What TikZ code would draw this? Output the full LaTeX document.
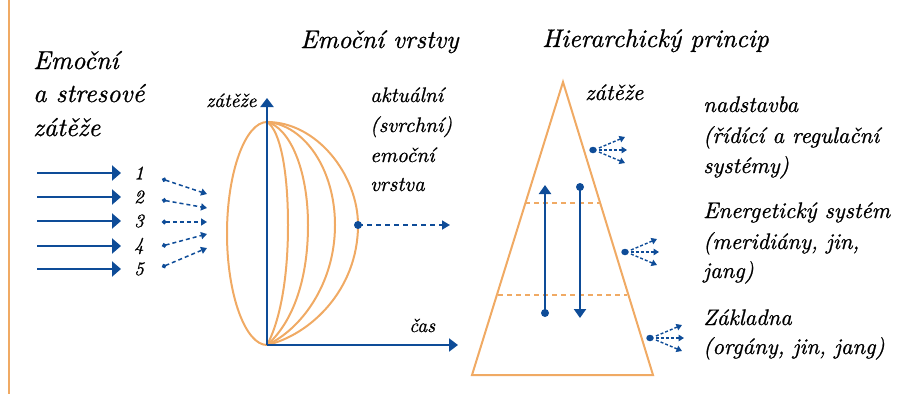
\documentclass[tikz,border=0pt]{standalone}
\usepackage{fontspec}
\newfontfamily\itf{lmroman10-italic.otf}[FakeBold=0.8]
\usetikzlibrary{arrows.meta,shapes.geometric}
\definecolor{dblue}{RGB}{14,76,152}
\definecolor{lorange}{RGB}{240,170,100}
\begin{document}
\begin{tikzpicture}[x=1pt,y=-1pt,
  lbl/.style={anchor=base west, inner sep=0pt, font=\itf\fontsize{22.5}{26}\selectfont},
  midlbl/.style={lbl, font=\itf\fontsize{21}{24}\selectfont},
  biglbl/.style={lbl, font=\itf\fontsize{26}{30}\selectfont},
  titlelbl/.style={lbl, font=\itf\fontsize{25.5}{28}\selectfont},
  smalllbl/.style={lbl, font=\itf\fontsize{19.5}{22}\selectfont},
  num/.style={inner sep=0pt, font=\itf\fontsize{19}{20}\selectfont},
  inarrow/.style={dblue, line width=2.3pt, -{Triangle[length=9pt,width=15pt]}},
  axis/.style={dblue, line width=2.2pt, -{Triangle[length=9pt,width=13pt]}},
  dasharrow/.style={dblue, line width=1.5pt, dash pattern=on 4pt off 3pt, {Circle[length=4.5pt]}-{Triangle[length=6pt,width=7pt]}},
  layer/.style={lorange, line width=2pt},
  orangedash/.style={lorange, line width=1.6pt, dash pattern=on 5pt off 4pt},
  dotnode/.style={circle, fill=dblue, inner sep=0pt, minimum size=8pt},
  fandot/.style={ellipse, fill=dblue, inner sep=0pt, minimum width=7.5pt, minimum height=6.5pt},
  fan/.style={dblue, line width=1.4pt, dash pattern=on 3pt off 2pt, -{Triangle[length=5.5pt,width=6.5pt]}},
  vert/.style={dblue, line width=2.2pt, -{Triangle[length=9pt,width=12pt]}},
]
\useasboundingbox (0,0) rectangle (904,394);
% left frame line
\draw[lorange, line width=1.8pt] (9,0) -- (9,394);

% titles
\node[titlelbl] (t1) at (300,48) {Emoční vrstvy};
\node[titlelbl] (t2) at (542,47) {Hierarchický princip};

% left text
\node[biglbl] (a1) at (33,69) {Emoční};
\node[biglbl] (a2) at (33,102) {a stresové};
\node[biglbl] (a3) at (33,136) {zátěže};

% input arrows and numbers
\foreach \i/\y/\ys/\ye in {1/173/179/194, 2/197/200/208, 3/221/222/222, 4/246/246/234, 5/269/267/248}{
  \coordinate (in\i s) at (37,\y);
  \coordinate (in\i e) at (121,\y);
  \draw[inarrow] (in\i s) -- (in\i e);
  \node[num] (n\i) at (139,\y) {\i};
  \coordinate (ds\i) at (162,\ys);
  \coordinate (de\i) at (207,\ye);
  \draw[dasharrow] (ds\i) -- (de\i);
}

% emotional layers
\coordinate (top) at (267,122);
\coordinate (O) at (267,345);
\draw[layer] (top) .. controls (245.5,122) and (227,172) .. (227,233.5)
             .. controls (227,295) and (245.5,345) .. (O);
\draw[layer] (top) .. controls (317,122) and (358,175) .. (358,225)
             .. controls (358,290) and (310,335) .. (O);
\draw[layer] (top) .. controls (305,125) and (335,170) .. (335,225)
             .. controls (335,285) and (300,330) .. (O);
\draw[layer] (top) .. controls (290,128) and (308,170) .. (308,225)
             .. controls (308,285) and (290,325) .. (O);
\draw[layer] (top) .. controls (280,130) and (288,170) .. (288,225)
             .. controls (288,285) and (278,325) .. (O);

% axes
\coordinate (ytip) at (267,98);
\coordinate (xtip) at (458,345);
\draw[axis] (O) -- (ytip);
\draw[axis] (O) -- (xtip);
\node[smalllbl] (yl) at (206,107) {zátěže};
\node[smalllbl] (xl) at (409,332) {čas};

% outer layer arrow
\node[dotnode] (d0) at (358,225) {};
\coordinate (e0) at (450,225);
\draw[dblue, line width=1.7pt, dash pattern=on 5pt off 4pt, -{Triangle[length=8pt,width=9pt]}] (d0.center) -- (e0);

\node[midlbl] (b1) at (370,102) {aktuální};
\node[midlbl] (b2) at (370,132) {(svrchní)};
\node[midlbl] (b3) at (370,162) {emoční};
\node[midlbl] (b4) at (370,191) {vrstva};

% hierarchy triangle
\coordinate (apex) at (563,82);
\coordinate (br) at (653,375);
\coordinate (bl) at (472,375);
\draw[layer] (apex) -- (br) -- (bl) -- cycle;
\coordinate (h1l) at (525,203); \coordinate (h1r) at (600,203);
\coordinate (h2l) at (498,295); \coordinate (h2r) at (627,295);
\draw[orangedash] (h1l) -- (h1r);
\draw[orangedash] (h2l) -- (h2r);

% up / down arrows
\node[dotnode] (u0) at (545,313) {};
\coordinate (u1) at (545,185);
\draw[vert] (u0.center) -- (u1);
\node[dotnode] (v0) at (580,187) {};
\coordinate (v1) at (580,318);
\draw[vert] (v0.center) -- (v1);

\node[lbl] (zl) at (585,100) {zátěže};

% fans
\foreach \k/\x/\y in {1/593/150, 2/625/252, 3/650/338}{
  \node[fandot] (f\k) at (\x,\y) {};
  \coordinate (f\k a) at (\x+32,\y-13);
  \coordinate (f\k b) at (\x+34,\y);
  \coordinate (f\k c) at (\x+32,\y+13);
  \draw[fan] (f\k.east) ++(2,-2) -- (f\k a);
  \draw[fan] (f\k.east) ++(2,0) -- (f\k b);
  \draw[fan] (f\k.east) ++(2,2) -- (f\k c);
}

% right text
\node[lbl] (r1) at (703,112) {nadstavba};
\node[lbl] (r2) at (703,143) {(řídící a regulační};
\node[lbl] (r3) at (703,173) {systémy)};
\node[lbl] (r4) at (703,218) {Energetický systém};
\node[lbl] (r5) at (703,249) {(meridiány, jin,};
\node[lbl] (r6) at (703,278) {jang)};
\node[lbl] (r7) at (703,325) {Základna};
\node[lbl] (r8) at (703,354) {(orgány, jin, jang)};
\end{tikzpicture}
\end{document}
